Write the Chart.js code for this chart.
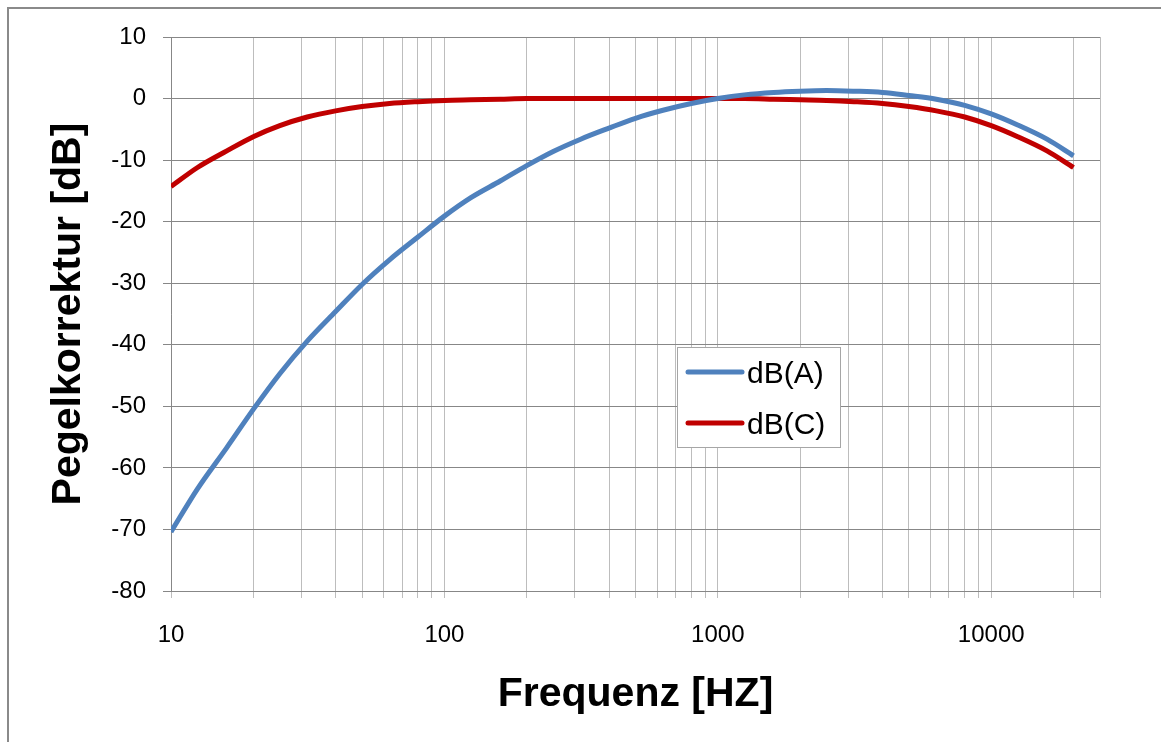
<!DOCTYPE html>
<html>
<head>
<meta charset="utf-8">
<script src="https://cdn.jsdelivr.net/npm/chart.js@4/dist/chart.umd.min.js"></script>
<style>
  body { margin: 0; background: #fff; overflow: hidden; }
  #frame { position: absolute; left: 7px; top: 7px; width: 1170px; height: 760px; border: 2px solid #8a8a8a; }
  canvas { position: absolute; left: 0; top: 0; }
</style>
</head>
<body>
<div id="frame"></div>
<canvas id="chart" width="1161" height="742"></canvas>
<script>
// terz frequencies [Hz]
const freqs = [10, 12.5, 16, 20, 25, 31.5, 40, 50, 63, 80, 100, 125, 160, 200, 250, 315, 400, 500, 630, 800,
               1000, 1250, 1600, 2000, 2500, 3150, 4000, 5000, 6300, 8000, 10000, 12500, 16000, 20000];
const dbA = [-70.4, -63.4, -56.7, -50.5, -44.7, -39.4, -34.6, -30.2, -26.2, -22.5, -19.1, -16.1, -13.4, -10.9, -8.6, -6.6, -4.8, -3.2, -1.9, -0.8,
             0, 0.6, 1.0, 1.2, 1.3, 1.2, 1.0, 0.5, -0.1, -1.1, -2.5, -4.3, -6.6, -9.3];
const dbC = [-14.3, -11.2, -8.5, -6.2, -4.4, -3.0, -2.0, -1.3, -0.8, -0.5, -0.3, -0.2, -0.1, 0, 0, 0, 0, 0, 0, 0,
             0, 0, -0.1, -0.2, -0.3, -0.5, -0.8, -1.3, -2.0, -3.0, -4.4, -6.2, -8.5, -11.2];
const xLabels = [10, 100, 1000, 10000];
const xMin = 10, xMax = 25000;
const yMin = -80, yMax = 10, yStep = 10;

const FONT = "'Liberation Sans', Arial, sans-serif";

// legend drawn as a box inside the plot, like the Excel original
const boxLegend = {
    id: 'boxLegend',
    afterDraw(chart) {
        const ctx = chart.ctx;
        ctx.save();
        ctx.fillStyle = '#ffffff';
        ctx.fillRect(677, 347, 164, 100);
        ctx.strokeStyle = '#a6a6a6';
        ctx.lineWidth = 1;
        ctx.strokeRect(677.5, 347.5, 163, 100);
        ctx.font = '30px ' + FONT;
        ctx.textBaseline = 'alphabetic';
        ctx.fillStyle = '#000';
        chart.data.datasets.forEach((ds, i) => {
            const y = 372 + i * 51;
            ctx.strokeStyle = ds.borderColor;
            ctx.lineWidth = 5;
            ctx.lineCap = 'round';
            ctx.beginPath();
            ctx.moveTo(688, y);
            ctx.lineTo(742, y);
            ctx.stroke();
            ctx.fillText(ds.label, 747, y + 11);
        });
        ctx.restore();
    }
};

// gridline positions 1..9 per decade
function logGrid(min, max) {
    const out = [];
    for (let d = min; d <= max; d *= 10) {
        for (let m = 1; m <= 9; m++) {
            const v = d * m;
            if (v >= min && v <= max) out.push({ value: v });
        }
    }
    if (out[out.length - 1].value !== max) out.push({ value: max });
    return out;
}

new Chart(document.getElementById('chart'), {
    type: 'line',
    data: {
        datasets: [
            { label: 'dB(A)', data: freqs.map((f, i) => ({ x: f, y: dbA[i] })), borderColor: '#4f81bd' },
            { label: 'dB(C)', data: freqs.map((f, i) => ({ x: f, y: dbC[i] })), borderColor: '#c00000' }
        ]
    },
    options: {
        responsive: false,
        animation: false,
        layout: { padding: { top: 37, right: 61, left: 0, bottom: 0 } },
        elements: {
            line: { borderWidth: 5, cubicInterpolationMode: 'monotone', fill: false },
            point: { radius: 0 }
        },
        plugins: { legend: { display: false }, tooltip: { enabled: false } },
        scales: {
            x: {
                type: 'logarithmic',
                min: xMin,
                max: xMax,
                afterBuildTicks: s => { s.ticks = logGrid(xMin, xMax); },
                afterFit: s => { s.height = 151; },
                grid: { color: '#bdbdbd', lineWidth: 1, tickLength: 7, tickColor: '#bdbdbd' },
                border: { color: '#878787', width: 1 },
                ticks: {
                    autoSkip: false,
                    maxRotation: 0,
                    padding: 23,
                    color: '#000',
                    font: { family: FONT, size: 24 },
                    callback: v => xLabels.includes(v) ? String(v) : ''
                },
                title: {
                    display: true,
                    text: 'Frequenz [HZ]',
                    color: '#000',
                    font: { family: FONT, size: 41, weight: 'bold' },
                    padding: { top: 0, bottom: 23 }
                }
            },
            y: {
                min: yMin,
                max: yMax,
                afterFit: s => { s.width = 171; },
                grid: { color: '#878787', lineWidth: 1, tickLength: 8, tickColor: '#878787' },
                border: { color: '#878787', width: 1 },
                ticks: {
                    stepSize: yStep,
                    padding: 17,
                    color: '#000',
                    font: { family: FONT, size: 24 }
                },
                title: {
                    display: true,
                    text: 'Pegelkorrektur [dB]',
                    color: '#000',
                    font: { family: FONT, size: 41, weight: 'bold' },
                    padding: { top: 44, bottom: 0 }
                }
            }
        }
    },
    plugins: [boxLegend]
});
</script>
</body>
</html>
